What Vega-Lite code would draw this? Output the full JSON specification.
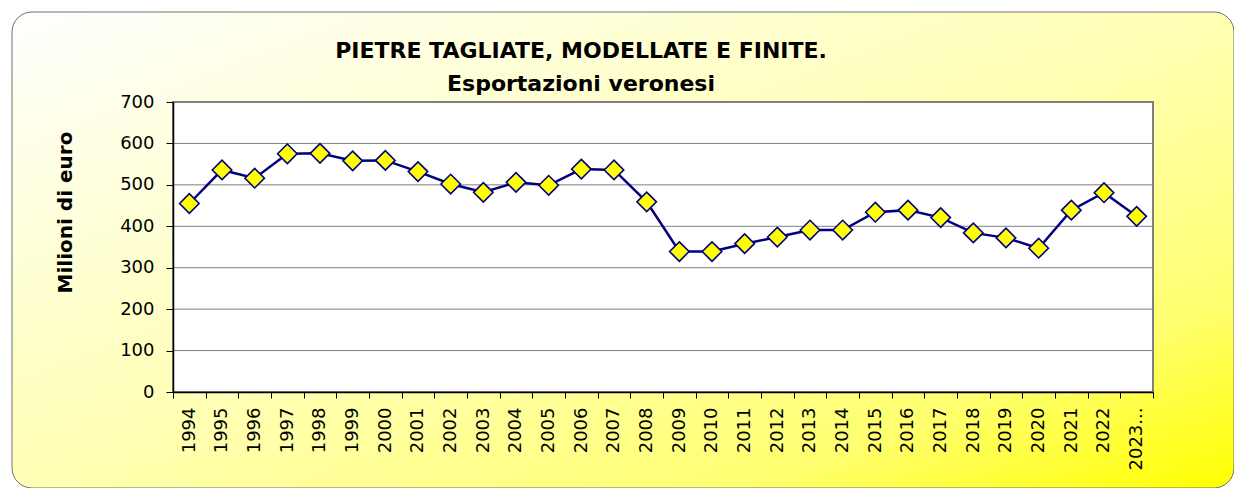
{
  "$schema": "https://vega.github.io/schema/vega-lite/v6.json",
  "width": 1222,
  "height": 476,
  "autosize": {"type": "none"},
  "padding": {"left": 12, "top": 12, "right": 0, "bottom": 0},
  "background": "#ffffff",
  "config": {
    "view": {"stroke": null},
    "axis": {
      "labelFont": "DejaVu Sans",
      "labelFontSize": 18,
      "labelColor": "#000000",
      "domainColor": "#000000",
      "tickColor": "#000000",
      "titleFont": "DejaVu Sans",
      "titleColor": "#000000"
    }
  },
  "title": {
    "text": ["PIETRE TAGLIATE, MODELLATE E FINITE.", "Esportazioni veronesi"],
    "font": "DejaVu Sans",
    "fontSize": 22,
    "fontWeight": "bold",
    "color": "#000000",
    "anchor": "middle",
    "frame": "group",
    "baseline": "alphabetic",
    "lineHeight": 33,
    "offset": 0,
    "dx": -42,
    "dy": 101
  },
  "datasets": {
    "exports": [
      {"year": 1994, "value": 455},
      {"year": 1995, "value": 536},
      {"year": 1996, "value": 516},
      {"year": 1997, "value": 575},
      {"year": 1998, "value": 576},
      {"year": 1999, "value": 558},
      {"year": 2000, "value": 559},
      {"year": 2001, "value": 532},
      {"year": 2002, "value": 502},
      {"year": 2003, "value": 482},
      {"year": 2004, "value": 506},
      {"year": 2005, "value": 499},
      {"year": 2006, "value": 538},
      {"year": 2007, "value": 536},
      {"year": 2008, "value": 459},
      {"year": 2009, "value": 339},
      {"year": 2010, "value": 339},
      {"year": 2011, "value": 358},
      {"year": 2012, "value": 374},
      {"year": 2013, "value": 391},
      {"year": 2014, "value": 391},
      {"year": 2015, "value": 434},
      {"year": 2016, "value": 439},
      {"year": 2017, "value": 421},
      {"year": 2018, "value": 384},
      {"year": 2019, "value": 372},
      {"year": 2020, "value": 347},
      {"year": 2021, "value": 439},
      {"year": 2022, "value": 481},
      {"year": 2023, "value": 424}
    ],
    "grid": [
      {"g": 100}, {"g": 200}, {"g": 300}, {"g": 400}, {"g": 500}, {"g": 600}
    ]
  },
  "layer": [
    {
      "data": {"values": [{}]},
      "mark": {
        "type": "rect",
        "fill": {
          "gradient": "linear",
          "x1": 0, "y1": 0, "x2": 1, "y2": 1,
          "stops": [
            {"offset": 0, "color": "#ffffff"},
            {"offset": 0.5, "color": "#ffffb4"},
            {"offset": 0.8, "color": "#ffff70"},
            {"offset": 1, "color": "#ffff00"}
          ]
        },
        "stroke": "#707070",
        "strokeWidth": 1,
        "cornerRadius": 20
      },
      "encoding": {}
    },
    {
      "data": {"values": [{}]},
      "mark": {"type": "rect", "fill": "#ffffff", "stroke": "#808080", "strokeWidth": 2},
      "encoding": {
        "x": {"datum": 1993.5, "type": "quantitative", "title": null},
        "x2": {"datum": 2023.5},
        "y": {"datum": 0, "type": "quantitative", "title": "Milioni di euro"},
        "y2": {"datum": 700}
      }
    },
    {
      "data": {"name": "grid"},
      "mark": {"type": "rule", "stroke": "#808080", "strokeWidth": 1},
      "encoding": {
        "y": {"field": "g", "type": "quantitative", "title": "Milioni di euro"},
        "x": {"datum": 1993.5, "type": "quantitative", "title": null},
        "x2": {"datum": 2023.5}
      }
    },
    {
      "data": {"name": "exports"},
      "mark": {"type": "line", "color": "#000080", "strokeWidth": 2.5},
      "encoding": {
        "x": {
          "field": "year",
          "type": "quantitative",
          "title": null,
          "scale": {"domain": [1993.5, 2023.5], "range": [161, 1141], "nice": false, "zero": false},
          "axis": {
            "orient": "bottom",
            "offset": -96,
            "zindex": 1,
            "grid": false,
            "values": [1993.5, 1994.5, 1995.5, 1996.5, 1997.5, 1998.5, 1999.5, 2000.5, 2001.5, 2002.5, 2003.5, 2004.5, 2005.5, 2006.5, 2007.5, 2008.5, 2009.5, 2010.5, 2011.5, 2012.5, 2013.5, 2014.5, 2015.5, 2016.5, 2017.5, 2018.5, 2019.5, 2020.5, 2021.5, 2022.5, 2023.5],
            "labelExpr": "datum.value > 2023 ? '' : (datum.value > 2022 ? '2023...' : format(datum.value + 0.5, 'd'))",
            "labelOffset": 16.33,
            "labelAngle": 270,
            "labelAlign": "right",
            "labelBaseline": "middle",
            "labelPadding": 9,
            "labelOverlap": false,
            "labelFlush": false,
            "labelBound": false,
            "tickSize": 6,
            "tickWidth": 1,
            "domainWidth": 1.5
          }
        },
        "y": {
          "field": "value",
          "type": "quantitative",
          "title": "Milioni di euro",
          "scale": {"domain": [0, 700], "range": [380, 90], "nice": false, "zero": true},
          "axis": {
            "title": "Milioni di euro",
            "orient": "left",
            "offset": -161,
            "zindex": 1,
            "grid": false,
            "values": [0, 100, 200, 300, 400, 500, 600, 700],
            "labelPadding": 12,
            "labelOverlap": false,
            "labelFlush": false,
            "labelBound": false,
            "tickSize": 7,
            "tickWidth": 1,
            "domainWidth": 1.5,
            "titleFontSize": 20,
            "titleFontWeight": "bold",
            "titleAngle": 270,
            "titleAlign": "center",
            "titleBaseline": "alphabetic",
            "titleX": -102,
            "titleY": 200
          }
        }
      }
    },
    {
      "data": {"name": "exports"},
      "mark": {"type": "point", "shape": "diamond", "filled": true, "fill": "#ffff00", "stroke": "#000080", "strokeWidth": 1.6, "size": 380, "opacity": 1},
      "encoding": {
        "x": {"field": "year", "type": "quantitative", "title": null},
        "y": {"field": "value", "type": "quantitative", "title": "Milioni di euro"}
      }
    }
  ]
}
